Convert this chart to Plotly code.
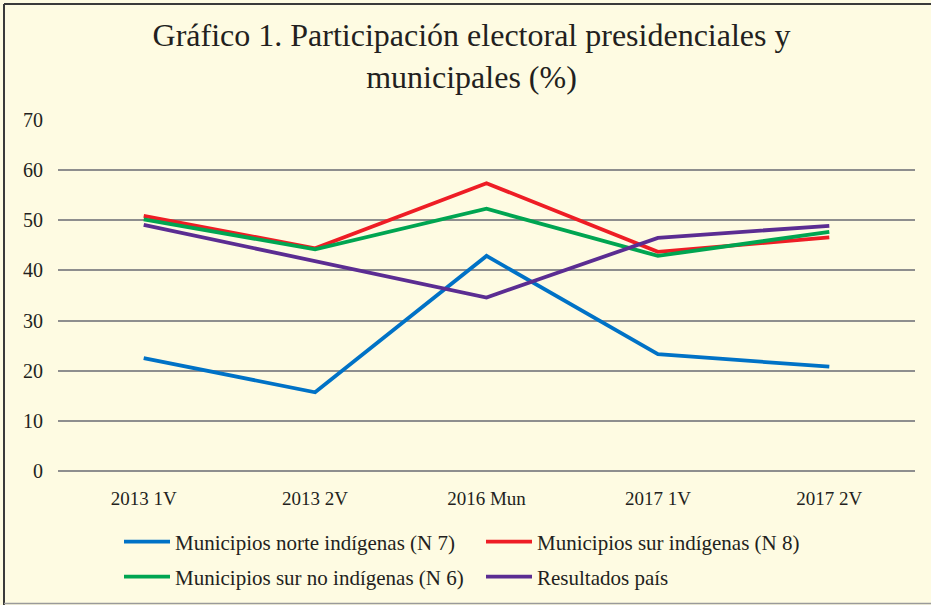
import plotly.graph_objects as go

categories = ["2013 1V", "2013 2V", "2016 Mun", "2017 1V", "2017 2V"]
norte_indigenas = [22.5, 15.7, 42.9, 23.3, 20.8]
sur_indigenas = [50.9, 44.4, 57.4, 43.7, 46.6]
sur_no_indigenas = [50.2, 44.2, 52.3, 42.9, 47.7]
resultados_pais = [49.1, 41.8, 34.6, 46.5, 48.9]

series_names = [
    "Municipios norte indígenas (N 7)",
    "Municipios sur indígenas (N 8)",
    "Municipios sur no indígenas (N 6)",
    "Resultados país",
]
series_values = [norte_indigenas, sur_indigenas, sur_no_indigenas, resultados_pais]
series_colors = ["#0072C6", "#EE1D25", "#00A551", "#5B2D92"]
series_legend = ["legend", "legend", "legend2", "legend2"]
y_ticks = [0, 10, 20, 30, 40, 50, 60, 70]

W, H = 931, 605
ML, MR, MT, MB = 58, 16, 120, 134
BG = "#FEFBE2"
FONT = "Liberation Serif"
TXT = "#231F20"

fig = go.Figure()
for name, vals, col, lg in zip(series_names, series_values, series_colors, series_legend):
    fig.add_trace(go.Scatter(
        x=categories, y=vals, name=name, mode="lines",
        line=dict(color=col, width=3.8),
        legend=lg,
    ))

pw = W - ML - MR
ph = H - MT - MB
def px_to_paper_x(px):
    return (px - ML) / pw
def py_to_paper_y(py):
    return (H - MB - py) / ph

# outer frame lines
fig.add_shape(type="line", xref="paper", yref="paper",
              x0=px_to_paper_x(4), x1=px_to_paper_x(W), y0=py_to_paper_y(4), y1=py_to_paper_y(4),
              line=dict(color="#3A3A3A", width=2))
fig.add_shape(type="line", xref="paper", yref="paper",
              x0=px_to_paper_x(4), x1=px_to_paper_x(4), y0=py_to_paper_y(4), y1=py_to_paper_y(H),
              line=dict(color="#3A3A3A", width=2))
fig.add_shape(type="line", xref="paper", yref="paper",
              x0=px_to_paper_x(4), x1=px_to_paper_x(W), y0=py_to_paper_y(603.5), y1=py_to_paper_y(603.5),
              line=dict(color="#9A9A9A", width=1.5))

legend_common = dict(
    orientation="h", xref="container", yref="container",
    xanchor="left", yanchor="middle",
    bgcolor="rgba(0,0,0,0)", borderwidth=0,
    font=dict(family=FONT, size=21, color=TXT),
    entrywidth=301, entrywidthmode="pixels",
    itemwidth=46, tracegroupgap=0,
)

fig.update_layout(
    width=W, height=H,
    margin=dict(l=ML, r=MR, t=MT, b=MB, pad=0),
    paper_bgcolor=BG, plot_bgcolor=BG,
    font=dict(family=FONT, color=TXT),
    title=dict(
        text="Gráfico 1. Participación electoral presidenciales y<br>municipales (%)",
        font=dict(family=FONT, size=32, color=TXT),
        x=471.5 / W, xanchor="center", xref="container",
        y=1 - 46 / H, yanchor="top", yref="container",
    ),
    xaxis=dict(
        type="category", categoryorder="array", categoryarray=categories,
        range=[-0.5, 4.5], showgrid=False, zeroline=False, showline=False,
        ticks="", tickfont=dict(family=FONT, size=19, color=TXT),
        ticklabelstandoff=14, fixedrange=True,
    ),
    yaxis=dict(
        range=[0, 70], tickvals=y_ticks, showgrid=True,
        gridcolor="#8E8E8E", gridwidth=2,
        zeroline=True, zerolinecolor="#8E8E8E", zerolinewidth=2,
        showline=False, ticks="",
        tickfont=dict(family=FONT, size=20, color=TXT),
        ticklabelstandoff=14, fixedrange=True,
    ),
    legend=dict(legend_common, x=119 / W, y=1 - 542 / H),
    legend2=dict(legend_common, x=119 / W, y=1 - 577 / H),
    showlegend=True,
)

fig.write_html(
    "out.html",
    config={"displayModeBar": False},
    post_script="document.body.style.margin='0';document.body.style.overflow='hidden';",
)
